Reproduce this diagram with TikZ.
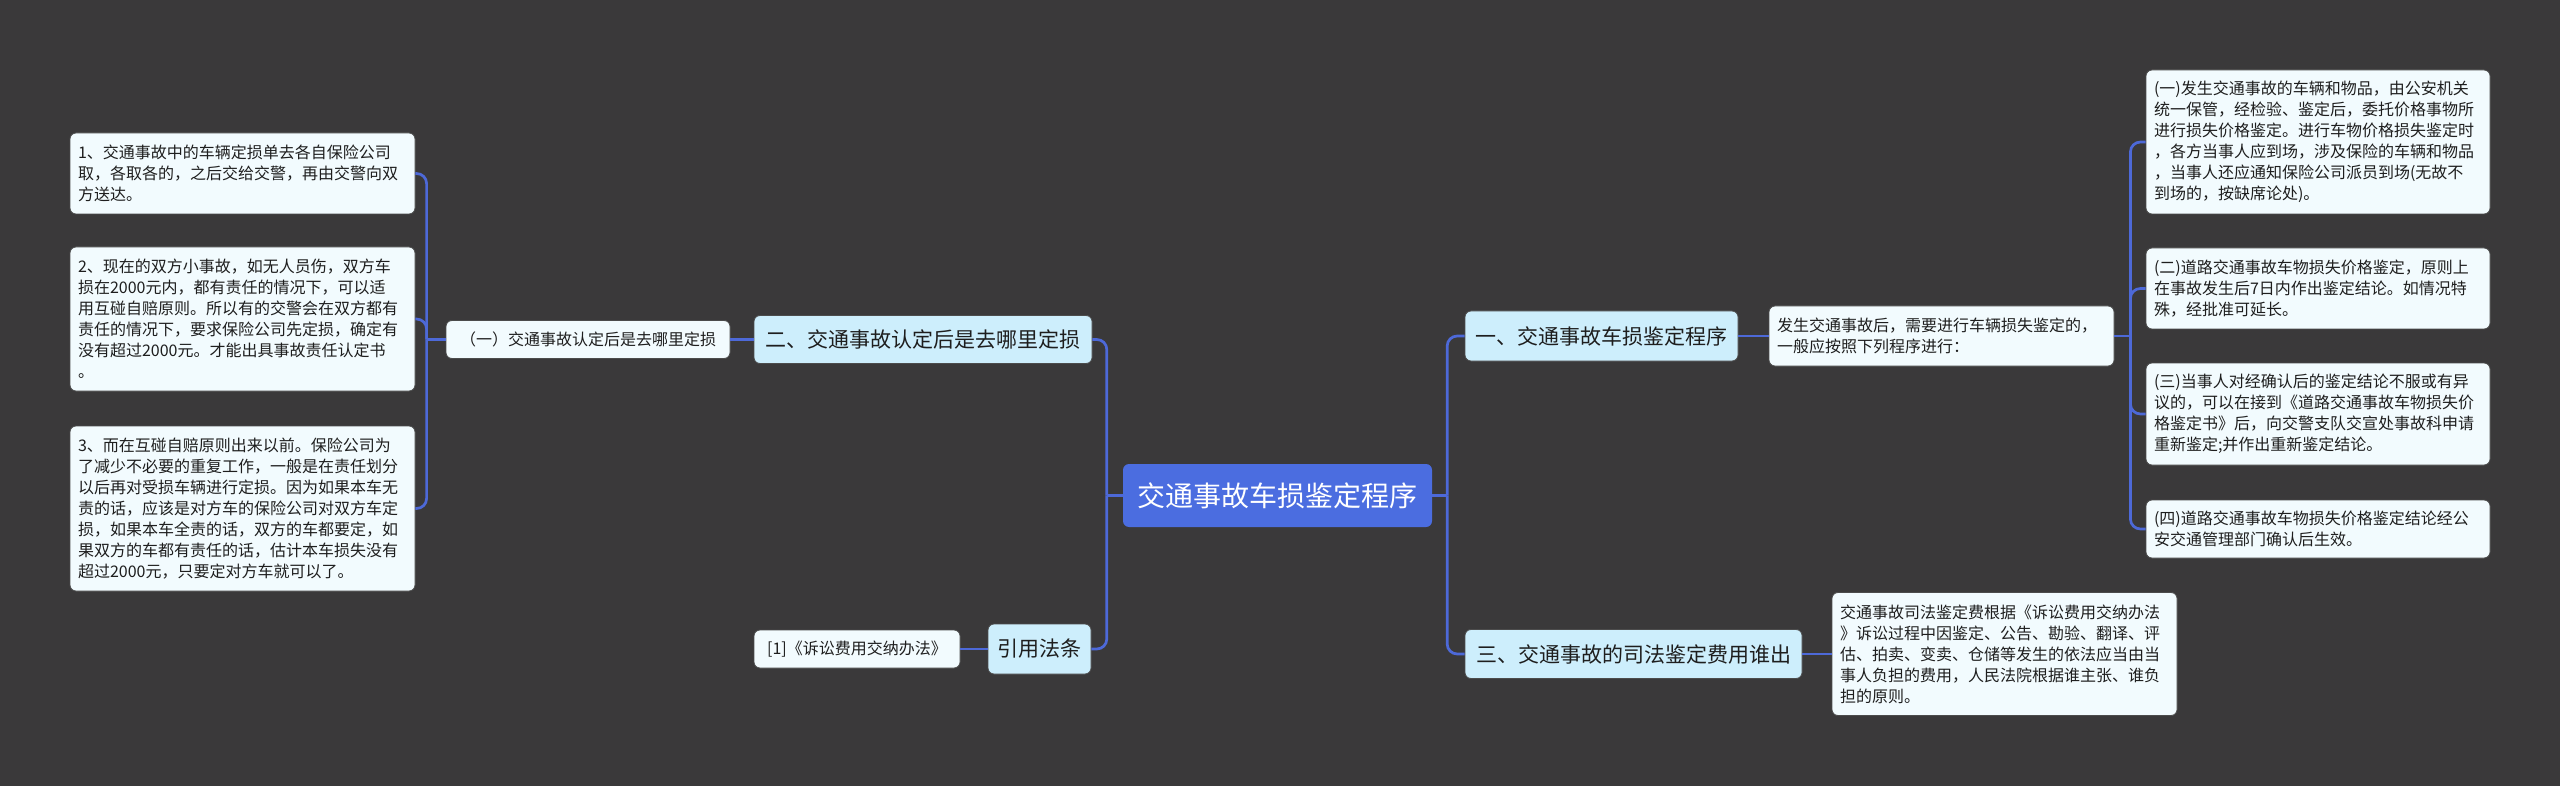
\documentclass[tikz,border=0pt]{standalone}
\usepackage{fontspec}
\setmainfont{Noto Sans CJK SC}
\definecolor{bgc}{HTML}{3A393A}
\definecolor{rootc}{HTML}{4B6DE0}
\definecolor{lvc}{HTML}{CDEEFC}
\definecolor{leafc}{HTML}{F2FBFE}
\definecolor{linec}{HTML}{4D69D8}
\definecolor{txtc}{HTML}{1E1E1E}
\tikzset{
  base/.style={rounded corners=6pt, inner xsep=8pt, inner ysep=0pt, text=txtc},
  rootbox/.style={base, fill=rootc, text=white, align=center, font=\fontsize{28}{34}\selectfont},
  lvbox/.style={base, fill=lvc, draw=black!70, line width=0.8pt, align=center, font=\fontsize{21}{26}\selectfont},
  leafbox/.style={base, fill=leafc, draw=black!70, line width=0.8pt, align=left, font=\fontsize{16}{21}\selectfont},
  conn/.style={draw=linec, line width=2.7pt, rounded corners=10pt},
}
\begin{document}
\begin{tikzpicture}[x=1pt,y=-1pt]
\fill[bgc] (0,0) rectangle (2560,786);
\useasboundingbox (0,0) rectangle (2560,786);

% root
\node[rootbox, minimum width=309pt, minimum height=63pt] (root) at (1277.5,495.5) {交通事故车损鉴定程序};

% left level 1
\node[lvbox, minimum width=338pt, minimum height=48pt] (n2) at (923,339.5) {二、交通事故认定后是去哪里定损};
\node[lvbox, minimum width=103pt, minimum height=50pt] (n4) at (1039.5,649) {引用法条};

% left leaves
\node[leafbox, align=center, minimum width=284pt, minimum height=38pt] (s1) at (588,339.5) {（一）交通事故认定后是去哪里定损};
\node[leafbox, align=center, minimum width=206pt, minimum height=38pt] (s4) at (857,649) {[1]《诉讼费用交纳办法》};

\node[leafbox, text width=329pt, minimum height=81pt] (l1) at (242.5,173.5) {1、交通事故中的车辆定损单去各自保险公司\\取，各取各的，之后交给交警，再由交警向双\\方送达。};
\node[leafbox, text width=329pt, minimum height=144pt] (l2) at (242.5,319) {2、现在的双方小事故，如无人员伤，双方车\\损在2000元内，都有责任的情况下，可以适\\用互碰自赔原则。所以有的交警会在双方都有\\责任的情况下，要求保险公司先定损，确定有\\没有超过2000元。才能出具事故责任认定书\\。};
\node[leafbox, text width=329pt, minimum height=165pt] (l3) at (242.5,508.5) {3、而在互碰自赔原则出来以前。保险公司为\\了减少不必要的重复工作，一般是在责任划分\\以后再对受损车辆进行定损。因为如果本车无\\责的话，应该是对方车的保险公司对双方车定\\损，如果本车全责的话，双方的车都要定，如\\果双方的车都有责任的话，估计本车损失没有\\超过2000元，只要定对方车就可以了。};

% right level 1
\node[lvbox, minimum width=273pt, minimum height=50pt] (n1) at (1601.5,336) {一、交通事故车损鉴定程序};
\node[lvbox, minimum width=337pt, minimum height=49pt] (n3) at (1633.5,654) {三、交通事故的司法鉴定费用谁出};

% right leaves
\node[leafbox, text width=329pt, minimum height=60pt] (s2) at (1941.5,336) {发生交通事故后，需要进行车辆损失鉴定的，\\一般应按照下列程序进行：};
\node[leafbox, text width=328pt, minimum height=144pt] (r1) at (2318,142) {(一)发生交通事故的车辆和物品，由公安机关\\统一保管，经检验、鉴定后，委托价格事物所\\进行损失价格鉴定。进行车物价格损失鉴定时\\，各方当事人应到场，涉及保险的车辆和物品\\，当事人还应通知保险公司派员到场(无故不\\到场的，按缺席论处)。};
\node[leafbox, text width=328pt, minimum height=81pt] (r2) at (2318,288.5) {(二)道路交通事故车物损失价格鉴定，原则上\\在事故发生后7日内作出鉴定结论。如情况特\\殊，经批准可延长。};
\node[leafbox, text width=328pt, minimum height=102pt] (r3) at (2318,414) {(三)当事人对经确认后的鉴定结论不服或有异\\议的，可以在接到《道路交通事故车物损失价\\格鉴定书》后，向交警支队交宣处事故科申请\\重新鉴定;并作出重新鉴定结论。};
\node[leafbox, text width=328pt, minimum height=58pt] (r4) at (2318,529) {(四)道路交通事故车物损失价格鉴定结论经公\\安交通管理部门确认后生效。};
\node[leafbox, text width=329pt, minimum height=123pt] (r5) at (2004.5,654) {交通事故司法鉴定费根据《诉讼费用交纳办法\\》诉讼过程中因鉴定、公告、勘验、翻译、评\\估、拍卖、变卖、仓储等发生的依法应当由当\\事人负担的费用，人民法院根据谁主张、谁负\\担的原则。};

% junction points
\coordinate (jl) at ([xshift=-16pt]root.west);
\coordinate (jr) at ([xshift=15pt]root.east);
\coordinate (js1) at ([xshift=-19pt]s1.west);
\coordinate (js2) at ([xshift=16pt]s2.east);

% connectors
\draw[conn] (root.west) -- (jl);
\draw[conn] (jl) |- (n2.east);
\draw[conn] (jl) |- (n4.east);
\draw[conn] (root.east) -- (jr);
\draw[conn] (jr) |- (n1.west);
\draw[conn] (jr) |- (n3.west);
\draw[conn] (n2.west) -- (s1.east);
\draw[conn] (n4.west) -- (s4.east);
\draw[conn] (s1.west) -- (js1);
\draw[conn] (js1) |- (l1.east);
\draw[conn] (js1) |- (l2.east);
\draw[conn] (js1) |- (l3.east);
\draw[conn] (n1.east) -- (s2.west);
\draw[conn] (n3.east) -- (r5.west);
\draw[conn] (s2.east) -- (js2);
\draw[conn] (js2) |- (r1.west);
\draw[conn] (js2) |- (r2.west);
\draw[conn] (js2) |- (r3.west);
\draw[conn] (js2) |- (r4.west);
\end{tikzpicture}
\end{document}
